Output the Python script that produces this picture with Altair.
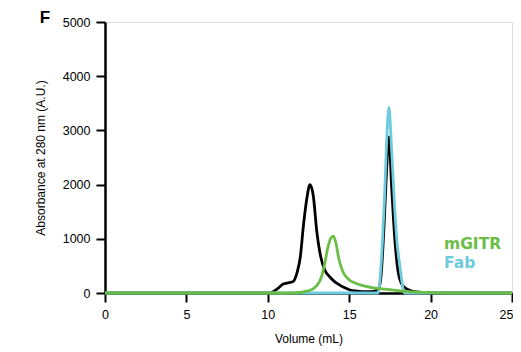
import altair as alt
import pandas as pd

# Complex (black trace)
cx_x = [0, 10.0, 10.3, 10.6, 10.95, 11.3, 11.55, 11.8, 12.0, 12.18, 12.4, 12.59, 12.8, 13.0, 13.25, 13.5, 13.8, 14.1, 14.4, 14.7, 15.05, 15.5, 16.0, 16.5, 16.8, 16.95, 17.15, 17.3, 17.44, 17.6, 17.8, 18.0, 18.2, 18.5, 18.9, 19.5, 20.5, 25]
cx_y = [0, 0, 20, 80, 165, 190, 210, 380, 670, 1220, 1750, 2000, 1780, 1160, 670, 425, 300, 210, 150, 100, 55, 35, 25, 30, 80, 300, 1300, 2300, 2880, 2000, 1000, 400, 180, 80, 30, 10, 0, 0]

# mGITR (green trace)
mg_x = [0, 11.5, 12.5, 13.0, 13.3, 13.5, 13.7, 13.87, 14.03, 14.2, 14.35, 14.6, 14.9, 15.4, 15.9, 16.5, 17.2, 18.0, 19.0, 20.0, 21.0, 25]
mg_y = [0, 0, 40, 130, 300, 550, 850, 1010, 1050, 900, 650, 400, 270, 180, 130, 95, 70, 45, 20, 8, 0, 0]

# Fab (cyan trace)
fab_x = [0, 16.78, 16.95, 17.05, 17.16, 17.3, 17.44, 17.58, 17.77, 17.92, 18.12, 18.4, 25]
fab_y = [0, 0, 480, 1000, 1700, 2800, 3430, 2800, 1700, 1000, 480, 0, 0]

legend_labels = ["mGITR", "Fab"]
panel_label = "F"

x_ticks = [0, 5, 10, 15, 20, 25]
y_ticks = [0, 1000, 2000, 3000, 4000, 5000]

df_cx = pd.DataFrame({"vol": cx_x, "abs": cx_y})
df_mg = pd.DataFrame({"vol": mg_x, "abs": mg_y})
df_fab = pd.DataFrame({"vol": fab_x, "abs": fab_y})

FONT = "Liberation Sans"
GREEN = "#6BBE45"
CYAN = "#6DCBDD"

xs = alt.Scale(domain=[0, 25], nice=False, zero=False)
ys = alt.Scale(domain=[0, 5000], nice=False)

x_axis = alt.Axis(values=x_ticks, title="Volume (mL)", grid=False, tickSize=9, tickWidth=2,
                  domainWidth=2.5, domainColor="black", tickColor="black",
                  labelFontSize=12.5, titleFontSize=12, labelPadding=6, titlePadding=13,
                  labelColor="black", titleColor="black", titleFontWeight="normal",
                  labelFont=FONT, titleFont=FONT, labelFlush=False,
                  labelAlign={"condition": {"test": "datum.value >= 25", "value": "right"}, "value": "center"},
                  labelOffset={"condition": {"test": "datum.value >= 25", "value": 1}, "value": 0})
y_axis = alt.Axis(values=y_ticks, title="Absorbance at 280 nm (A.U.)", grid=False, tickSize=9,
                  tickWidth=2, domainWidth=2.5, domainColor="black", tickColor="black",
                  labelFontSize=12.5, titleFontSize=12, labelPadding=6, titlePadding=15,
                  labelColor="black", titleColor="black", titleFontWeight="normal",
                  labelFont=FONT, titleFont=FONT, labelFlush=False, format="d")

def line(df, color):
    return alt.Chart(df).mark_line(color=color, strokeWidth=2.8, interpolate="monotone").encode(
        x=alt.X("vol:Q", scale=xs, axis=x_axis),
        y=alt.Y("abs:Q", scale=ys, axis=y_axis),
    )

black = line(df_cx, "#000000")
cyan = line(df_fab, CYAN)
green = line(df_mg, GREEN)

leg_mg = alt.Chart(pd.DataFrame({"label": [legend_labels[0]]})).mark_text(
    font="DejaVu Sans", fontSize=15.5, fontWeight="bold", color=GREEN, align="left", baseline="alphabetic"
).encode(text="label:N", x=alt.value(339), y=alt.value(227))
leg_fab = alt.Chart(pd.DataFrame({"label": [legend_labels[1]]})).mark_text(
    font="DejaVu Sans", fontSize=15.5, fontWeight="bold", color=CYAN, align="left", baseline="alphabetic"
).encode(text="label:N", x=alt.value(339), y=alt.value(245.5))
panel = alt.Chart(pd.DataFrame({"label": [panel_label]})).mark_text(
    font=FONT, fontSize=17, fontWeight="bold", color="black", align="center", baseline="middle"
).encode(text="label:N", x=alt.value(-60), y=alt.value(-4))

chart = alt.layer(black, cyan, green, leg_mg, leg_fab, panel).properties(
    width=407, height=271,
    autosize=alt.AutoSizeParams(type="none"),
    padding={"left": 97, "top": 14, "right": 1, "bottom": 53},
).configure_view(stroke=None).configure(background="white")

chart.save("out.html", embed_options={"renderer": "svg", "actions": False})
